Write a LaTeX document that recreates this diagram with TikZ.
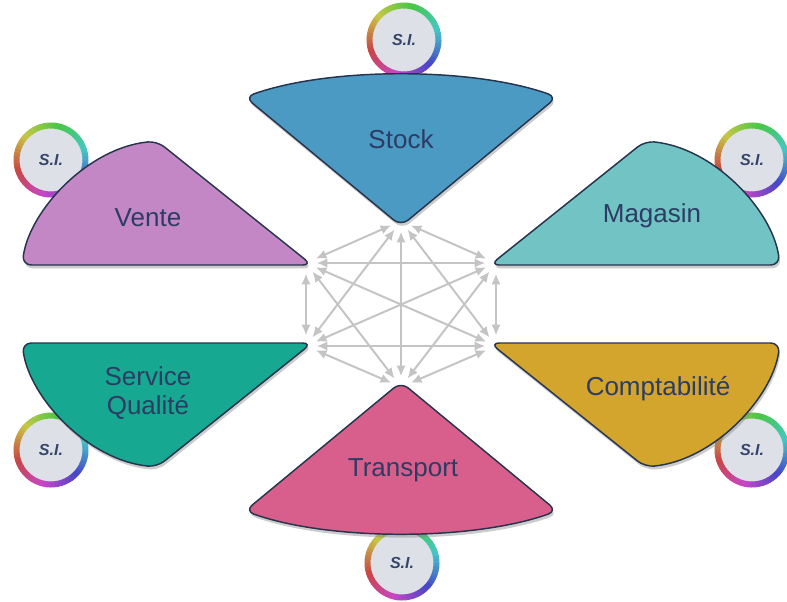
\documentclass[tikz,border=0pt]{standalone}
\usepackage{fontspec}
\setmainfont{Liberation Sans}
\usetikzlibrary{arrows.meta,shadows}
\definecolor{cstock}{HTML}{4B9AC4}
\definecolor{cvente}{HTML}{C487C6}
\definecolor{cmag}{HTML}{72C4C4}
\definecolor{cserv}{HTML}{17A891}
\definecolor{ccompta}{HTML}{D3A52C}
\definecolor{ctrans}{HTML}{D85F8B}
\definecolor{cedge}{HTML}{27344E}
\definecolor{ctext}{HTML}{2C3C64}
\definecolor{csifill}{HTML}{DDE0E6}
\definecolor{csitext}{HTML}{35456A}
\definecolor{carrow}{HTML}{C4C4C4}
\begin{document}
\begin{tikzpicture}[x=0.75pt,y=-0.75pt,
  sector/.style={draw=cedge, line width=1.1pt, rounded corners=7pt,
    drop shadow={shadow xshift=1pt, shadow yshift=-2.5pt, opacity=0.4}},
  label/.style={text=ctext, font=\fontsize{19.5}{22}\selectfont, align=center, inner sep=0pt},
  sicirc/.style={circle, fill=csifill, minimum size=47pt, inner sep=0pt,
    text=csitext, font=\fontsize{12}{14}\selectfont\bfseries\itshape,
    drop shadow={shadow xshift=0.8pt, shadow yshift=-1.2pt, opacity=0.25}},
  conn/.style={carrow, line width=1.5pt, {Latex[length=8pt,width=7pt]}-{Latex[length=8pt,width=7pt]},
    shorten >=8pt, shorten <=8pt}]
\useasboundingbox (0,0) rectangle (787,601);
% S.I. circles
\node[sicirc] (si1) at (404,40) {S.I.};
\node[sicirc] (si2) at (51,160) {S.I.};
\node[sicirc] (si3) at (752,160) {S.I.};
\node[sicirc] (si4) at (51,450) {S.I.};
\node[sicirc] (si5) at (752,450) {S.I.};
\node[sicirc] (si6) at (402,563) {S.I.};
\foreach \n in {si1,si2,si3,si4,si5,si6}{
  \foreach \i in {0,...,59}{
    \pgfmathsetmacro\h{mod(\i*6+200,360)}
    \definecolor{ringc}{Hsb}{\h,0.65,0.78}
    \draw[ringc, line width=4.5pt] (\n.center) ++(\i*6:34.5) arc[start angle=\i*6, delta angle=7, radius=34.5];
  }
}
% sectors
\draw[sector, fill=cstock] (245,97) .. controls (330,67) and (472,67) .. (557,97) -- (401,226) -- cycle;
\draw[sector, fill=ctrans] (401,382) -- (557,511) .. controls (472,541) and (330,541) .. (245,511) -- cycle;
\draw[sector, fill=cvente] (312,265) -- (22,265) .. controls (30,210) and (88,148) .. (157,141) -- cycle;
\draw[sector, fill=cmag] (490,265) -- (780,265) .. controls (772,210) and (714,148) .. (645,141) -- cycle;
\draw[sector, fill=cserv] (312,343) -- (22,343) .. controls (30,398) and (88,460) .. (157,467) -- cycle;
\draw[sector, fill=ccompta] (490,343) -- (780,343) .. controls (772,398) and (714,460) .. (645,467) -- cycle;
% labels
\node[label] (stock) at (401,139) {Stock};
\node[label] (vente) at (148,218) {Vente};
\node[label] (magasin) at (652,216) {Magasin};
\node[label] (service) at (148,393) {Service\\Qualité};
\node[label] (compta) at (658,389) {Comptabilité};
\node[label] (transport) at (403,470) {Transport};
% hub points
\coordinate (T) at (401,221);
\coordinate (B) at (401,387);
\coordinate (UL) at (306,263);
\coordinate (UR) at (496,263);
\coordinate (LL) at (306,346);
\coordinate (LR) at (496,346);
\draw[conn] (T) -- (B);
\draw[conn] (T) -- (UL);
\draw[conn] (T) -- (UR);
\draw[conn] (T) -- (LL);
\draw[conn] (T) -- (LR);
\draw[conn] (B) -- (UL);
\draw[conn] (B) -- (UR);
\draw[conn] (B) -- (LL);
\draw[conn] (B) -- (LR);
\draw[conn] (UL) -- (UR);
\draw[conn] (UL) -- (LL);
\draw[conn] (UL) -- (LR);
\draw[conn] (UR) -- (LL);
\draw[conn] (UR) -- (LR);
\draw[conn] (LL) -- (LR);
\end{tikzpicture}
\end{document}
